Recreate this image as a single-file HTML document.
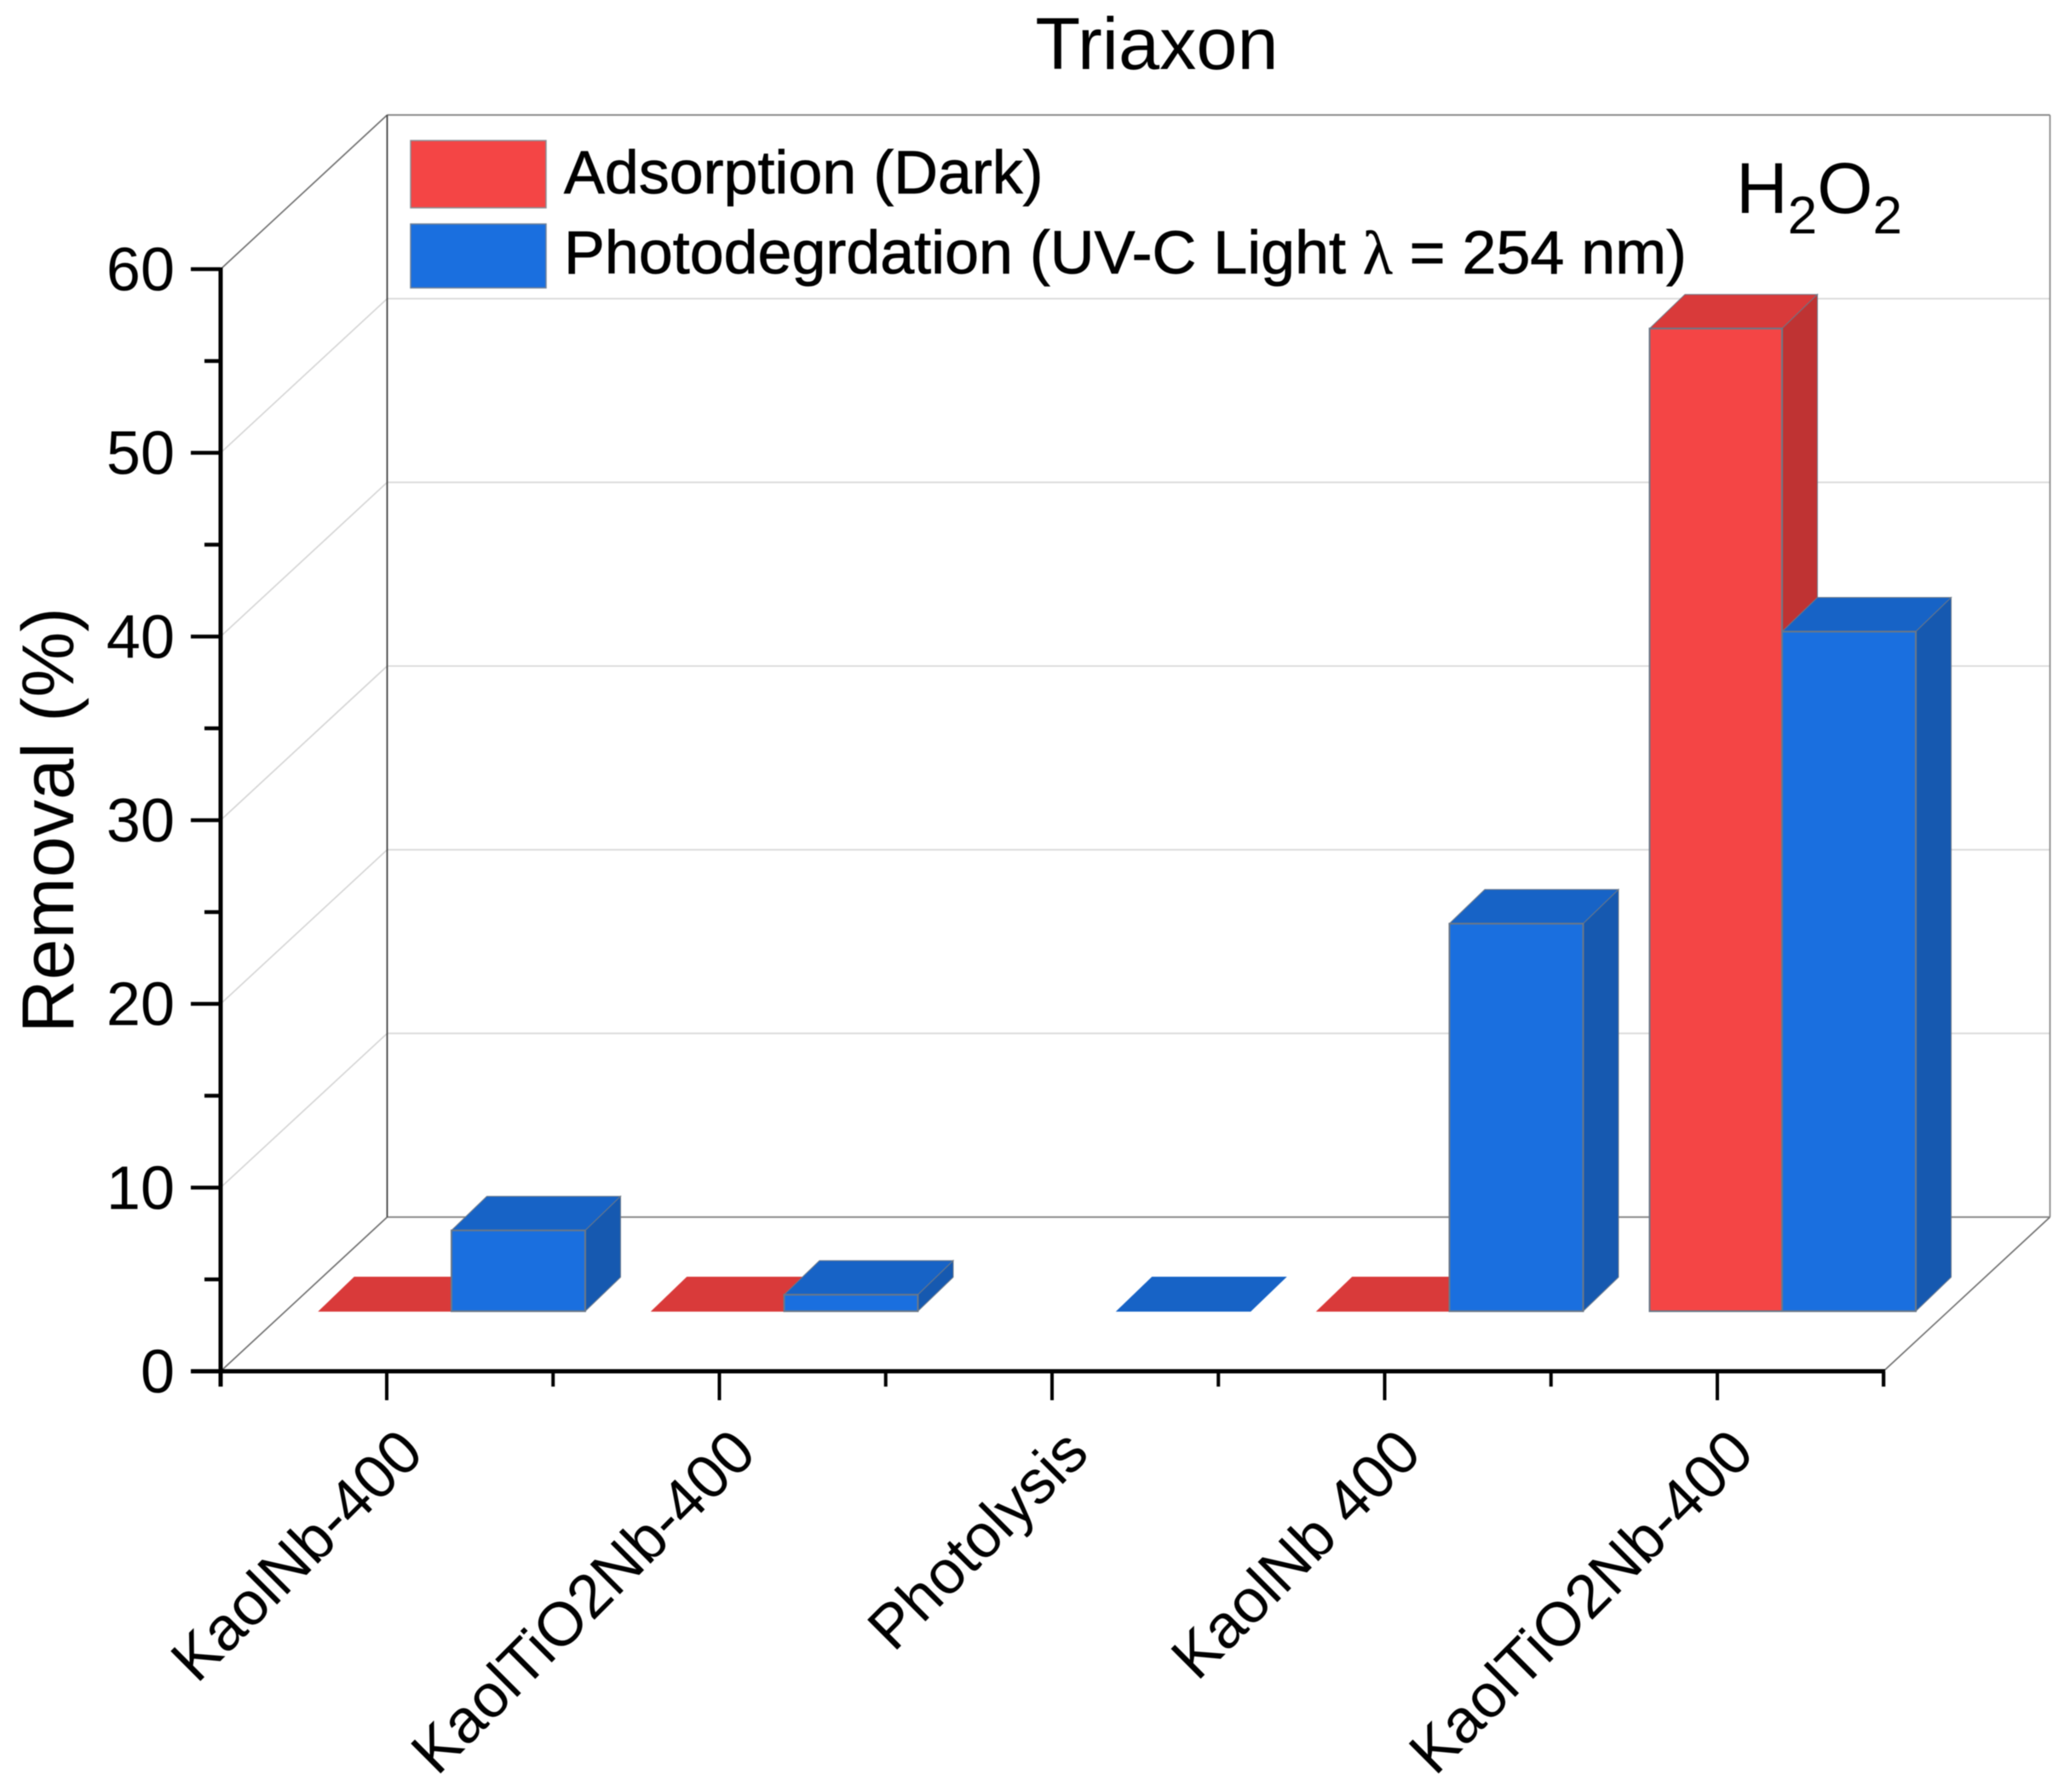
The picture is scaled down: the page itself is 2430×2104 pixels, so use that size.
<!DOCTYPE html>
<html lang="en">
<head>
<meta charset="utf-8">
<title>Triaxon removal chart</title>
<style>
html,body{margin:0;padding:0;background:#fff;width:2430px;height:2104px;overflow:hidden}
svg{display:block;font-family:"Liberation Sans",sans-serif;fill:#000;filter:blur(0.6px)}
</style>
</head>
<body>
<svg id="chart" xmlns="http://www.w3.org/2000/svg" width="2430" height="2104" viewBox="0 0 2430 2104">
  <rect x="0" y="0" width="2430" height="2104" fill="#ffffff"/>
  <g id="walls"></g>
  <g id="bars"></g>
  <g id="axes"></g>
  <text x="1358" y="81" font-size="86.5" text-anchor="middle">Triaxon</text>
  <text transform="translate(86 963) rotate(-90)" font-size="86.5" text-anchor="middle">Removal (%)</text>
  <g>
    <rect x="482" y="165" width="159" height="79" fill="#f44545" stroke="#8a8f96" stroke-width="1.5"/>
    <text x="662" y="227" font-size="71.8" stroke="#000" stroke-width="0.8">Adsorption (Dark)</text>
    <rect x="482" y="263" width="159" height="75" fill="#1a6fdf" stroke="#6f8198" stroke-width="1.5"/>
    <text x="662" y="321" font-size="71.8" stroke="#000" stroke-width="0.8">Photodegrdation (UV-C Light <tspan font-family="'Liberation Serif',serif">λ</tspan> = 254 nm)</text>
  </g>
  <g>
    <text x="2038" y="250" font-size="84">H<tspan font-size="62" dy="24">2</tspan><tspan dy="-24">O</tspan><tspan font-size="62" dy="24">2</tspan></text>
  </g>
</svg>
<script>
const categories = ["KaolNb-400", "KaolTiO2Nb-400", "Photolysis", "KaolNb 400", "KaolTiO2Nb-400"];
const adsorption = [0, 0, null, 0, 53.5];
const photodegradation = [4.4, 0.9, 0, 21.1, 37.0];
const yTicks = [0, 10, 20, 30, 40, 50, 60];
const yMinorTicks = [5, 15, 25, 35, 45, 55];

const NS = "http://www.w3.org/2000/svg";
const plot = {x0: 259, xEnd: 2211, y0: 1610, yTop: 316, yMax: 60, step: 390.5, first: 454, depthX: 195.5, depthY: 181};
const barGeom = {offset: 76, width: 157, redWidth: 155.5, baseY: 1539.5, dx: 41.5, dy: 40};

function xTick(i) { return plot.first + i * plot.step; }
function yFront(v) { return plot.y0 - (v / plot.yMax) * (plot.y0 - plot.yTop); }
function yBack(v) { return yFront(v) - plot.depthY; }
function barHeight(v) { return (v / plot.yMax) * (plot.y0 - plot.yTop); }

function make(tag, attrs, parent) {
  const el = document.createElementNS(NS, tag);
  for (const k in attrs) el.setAttribute(k, attrs[k]);
  parent.appendChild(el);
  return el;
}
function pts(list) { return list.map(p => p[0].toFixed(1) + "," + p[1].toFixed(1)).join(" "); }

const walls = document.getElementById("walls");
const axes = document.getElementById("axes");
const bars = document.getElementById("bars");
const backX = plot.x0 + plot.depthX;
const backRight = plot.xEnd + plot.depthX;

yTicks.forEach(function (v) {
  const isEdge = v === 0 || v === plot.yMax;
  const col = isEdge ? "#8c8c8c" : "#dadada";
  const diag = make("line", {x1: plot.x0, y1: yFront(v), x2: backX, y2: yBack(v), stroke: isEdge ? "#6e6e6e" : "#d4d4d4", "stroke-width": 1.6}, walls);
  
  
  const back = make("line", {x1: backX, y1: yBack(v), x2: backRight, y2: yBack(v), stroke: col, "stroke-width": isEdge ? 2 : 1.8}, walls);
  
  
});
const wallLeft = make("line", {x1: backX, y1: yBack(plot.yMax), x2: backX, y2: yBack(0), stroke: "#444", "stroke-width": 1.8}, walls);


const wallRight = make("line", {x1: backRight, y1: yBack(plot.yMax), x2: backRight, y2: yBack(0), stroke: "#8c8c8c", "stroke-width": 1.8}, walls);


const floorRight = make("line", {x1: plot.xEnd, y1: plot.y0, x2: backRight, y2: yBack(0), stroke: "#6e6e6e", "stroke-width": 1.6}, walls);



function drawBar(left, w, value, front, top, side) {
  const g = make("g", {}, bars);
  const b = barGeom.baseY;
  const t = b - barHeight(value);
  const r = left + w;
  const dx = barGeom.dx, dy = barGeom.dy;
  const edge = "#6b7888";
  const topFace = make("polygon", {points: pts([[left, t], [left + dx, t - dy], [r + dx, t - dy], [r, t]]), fill: top, stroke: value > 0 ? edge : top, "stroke-width": 1}, g);
  
  
  if (value > 0) {
    const sideFace = make("polygon", {points: pts([[r, t], [r + dx, t - dy], [r + dx, b - dy], [r, b]]), fill: side, stroke: edge, "stroke-width": 1}, g);
    
    
    const frontFace = make("rect", {x: left, y: t, width: w, height: b - t, fill: front, stroke: edge, "stroke-width": 2}, g);
    
    
  }
  return g;
}

categories.forEach(function (c, i) {
  const mid = xTick(i) + barGeom.offset;
  if (adsorption[i] !== null) {
    const a = drawBar(mid - barGeom.redWidth, barGeom.redWidth, adsorption[i], "#f44545", "#d93a3a", "#bf3333");
    
    
  }
  if (photodegradation[i] !== null) {
    const p = drawBar(mid, barGeom.width, photodegradation[i], "#1a6fdf", "#1763c6", "#1659b0");
    
    
  }
});

const yAxisLine = make("line", {x1: plot.x0, y1: plot.yTop - 2, x2: plot.x0, y2: plot.y0 + 18, stroke: "#000", "stroke-width": 5}, axes);


const xAxisLine = make("line", {x1: plot.x0 - 35, y1: plot.y0, x2: plot.xEnd + 2, y2: plot.y0, stroke: "#000", "stroke-width": 5}, axes);



yTicks.forEach(function (v) {
  const tk = make("line", {x1: plot.x0 - 35, y1: yFront(v), x2: plot.x0, y2: yFront(v), stroke: "#000", "stroke-width": 4.5}, axes);
  
  
  const lb = make("text", {x: 205, y: yFront(v) + 25, "font-size": 72, "text-anchor": "end"}, axes);
  lb.textContent = String(v);
  
  
});
yMinorTicks.forEach(function (v) {
  const tk = make("line", {x1: plot.x0 - 19, y1: yFront(v), x2: plot.x0, y2: yFront(v), stroke: "#000", "stroke-width": 4.5}, axes);
  
  
});

categories.forEach(function (c, i) {
  const x = xTick(i);
  const tk = make("line", {x1: x, y1: plot.y0, x2: x, y2: plot.y0 + 34, stroke: "#000", "stroke-width": 4}, axes);
  
  
  const mn = make("line", {x1: x + plot.step / 2, y1: plot.y0, x2: x + plot.step / 2, y2: plot.y0 + 18, stroke: "#000", "stroke-width": 4}, axes);
  
  
  const bx = x + 46, by = 1709;
  const lb = make("text", {x: bx, y: by, "font-size": 72, "text-anchor": "end", transform: "rotate(-45 " + bx + " " + by + ")"}, axes);
  lb.textContent = c;
  
  
});
const endTick = make("line", {x1: plot.xEnd, y1: plot.y0, x2: plot.xEnd, y2: plot.y0 + 18, stroke: "#000", "stroke-width": 4}, axes);


</script>
</body>
</html>
